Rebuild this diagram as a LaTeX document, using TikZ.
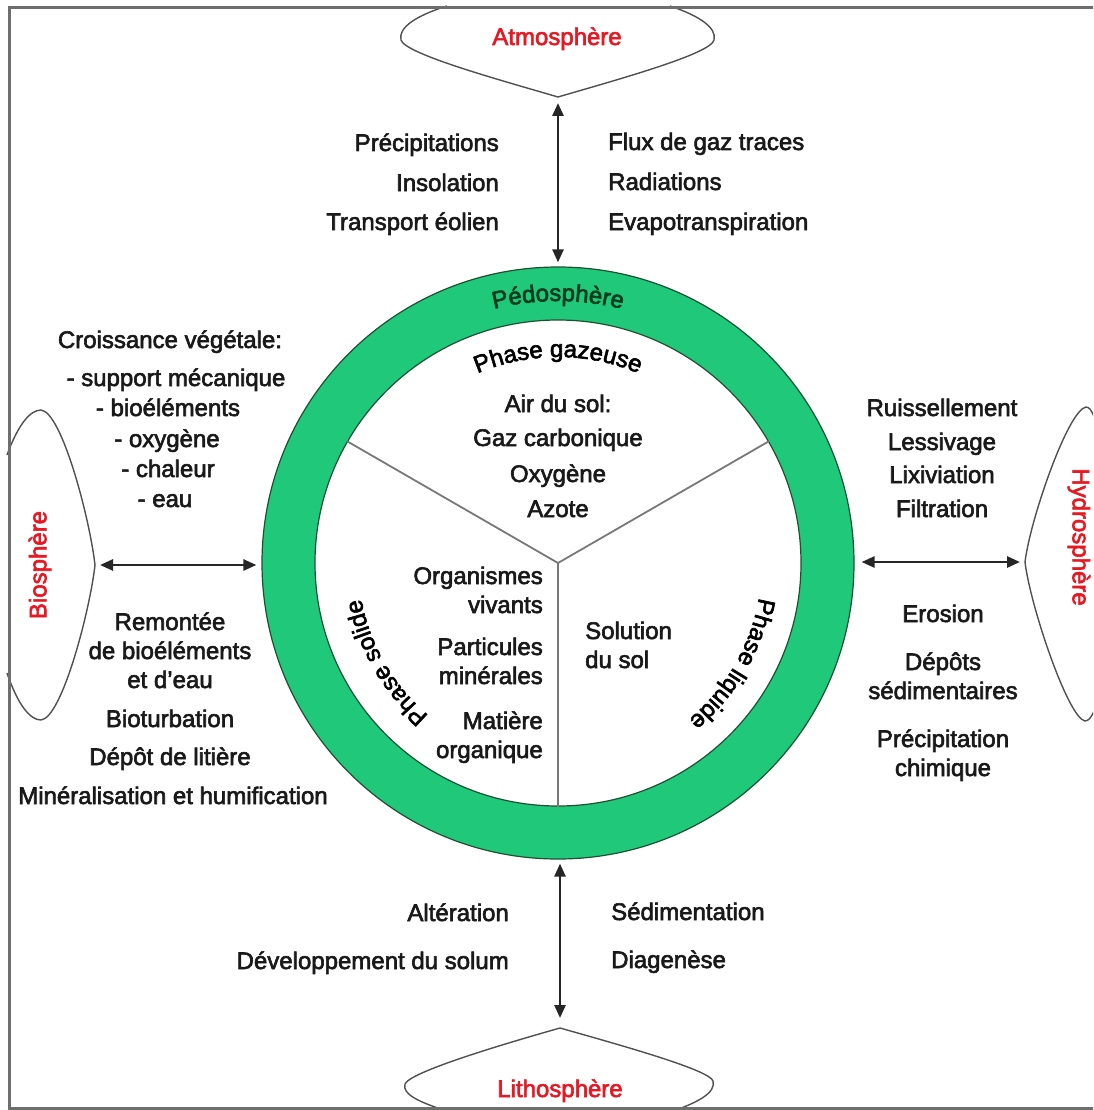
\documentclass[tikz,border=0pt]{standalone}
\usepackage{fontspec}
\setmainfont{Liberation Sans}[RawFeature={embolden=2.5}]
\usetikzlibrary{arrows.meta,decorations.text}
\definecolor{ringgreen}{RGB}{32,200,122}
\definecolor{ringedge}{RGB}{30,80,50}
\definecolor{pedotext}{RGB}{5,60,30}
\definecolor{spherered}{RGB}{230,25,35}
\definecolor{framegray}{RGB}{110,110,110}
\definecolor{lensgray}{RGB}{80,80,80}
\definecolor{divgray}{RGB}{120,120,120}
\newcommand\lblfont{\fontsize{24}{24}\selectfont}

\begin{document}
\begin{tikzpicture}[x=1pt,y=1pt,
  lbl/.style={inner sep=0pt, font=\lblfont, text=black!90},
  sphere/.style={inner sep=0pt, font=\lblfont, text=spherered},
  lens/.style={draw=lensgray, line width=1.4pt},
  frameline/.style={draw=framegray, line width=3pt},
  divider/.style={draw=divgray, line width=1.8pt},
  link/.style={{Triangle[length=13pt,width=11pt]}-{Triangle[length=13pt,width=11pt]}, draw=black!85, line width=2.6pt}
]
\useasboundingbox (0,0) rectangle (1093,-1110);
\clip (0,0) rectangle (1093,-1110);

% --- the four surrounding spheres (lens outlines) ---
\draw[lens] (447,-6) .. controls (415,-16) and (398,-28) .. (401,-40)
  .. controls (405,-54) and (500,-80) .. (558,-97)
  .. controls (616,-80) and (711,-54) .. (714,-40)
  .. controls (717,-28) and (700,-16) .. (670,-6);
\draw[lens] (7,-455) .. controls (18,-425) and (30,-410) .. (41,-410)
  .. controls (62,-412) and (90,-520) .. (95,-565)
  .. controls (90,-610) and (62,-718) .. (41,-720)
  .. controls (30,-720) and (18,-705) .. (7,-673);
\draw[lens] (1100,-440) .. controls (1096,-420) and (1092,-407) .. (1086,-407)
  .. controls (1068,-410) and (1030,-520) .. (1025,-562)
  .. controls (1030,-605) and (1068,-718) .. (1085,-721)
  .. controls (1092,-721) and (1097,-705) .. (1100,-690);
\draw[lens] (450,-1112) .. controls (418,-1102) and (402,-1094) .. (405,-1084)
  .. controls (410,-1072) and (500,-1045) .. (560,-1028)
  .. controls (620,-1045) and (710,-1070) .. (713,-1081)
  .. controls (716,-1092) and (700,-1102) .. (670,-1112);

\coordinate (atmoTip) at (558,-97);
\coordinate (bioTip) at (95,-565);
\coordinate (hydroTip) at (1025,-562);
\coordinate (lithoTip) at (560,-1028);

\node[sphere, anchor=base] (atmo) at (557,-45) {Atmosphère};
\node[sphere, anchor=base] (litho) at (560,-1097) {Lithosphère};
\node[sphere, rotate=90] (bio) at (40,-565) {Biosphère};
\node[sphere, rotate=-90] (hydro) at (1079,-537) {Hydrosphère};

% --- pedosphere ring and its three phases ---
\node[circle, minimum size=592pt, inner sep=0pt, fill=ringgreen, draw=ringedge, line width=1.2pt] (pedo) at (558,-563) {};
\node[circle, minimum size=486pt, inner sep=0pt, fill=white, draw=ringedge, line width=1.2pt] (core) at (pedo.center) {};
\draw[divider] (core.center) -- (core.150);
\draw[divider] (core.center) -- (core.30);
\draw[divider] (core.center) -- (core.270);

\path[decorate, decoration={text along path, text align=center, text color=pedotext,
  text={|\lblfont|Pédosphère}}]
  ([shift={(130:262)}]pedo.center) arc[start angle=130, end angle=50, radius=262];
\path[decorate, decoration={text along path, text align=center,
  text={|\lblfont|Phase gazeuse}}]
  ([shift={(140:206)}]core.center) arc[start angle=140, end angle=40, radius=206];
\path[decorate, decoration={text along path, text align=center,
  text={|\lblfont|Phase solide}}]
  ([shift={(260:200)}]core.center) arc[start angle=260, end angle=160, radius=200];
\path[decorate, decoration={text along path, text align=center,
  text={|\lblfont|Phase liquide}}]
  ([shift={(20:204)}]core.center) arc[start angle=20, end angle=-80, radius=204];

% gas phase
\node[lbl, anchor=base] (g1) at (558,-412) {Air du sol:};
\node[lbl, anchor=base] (g2) at (558,-446) {Gaz carbonique};
\node[lbl, anchor=base] (g3) at (558,-482) {Oxygène};
\node[lbl, anchor=base] (g4) at (558,-517) {Azote};
% solid phase
\node[lbl, anchor=base east] (s1) at (543,-584) {Organismes};
\node[lbl, anchor=base east] (s2) at (543,-613) {vivants};
\node[lbl, anchor=base east] (s3) at (543,-655) {Particules};
\node[lbl, anchor=base east] (s4) at (543,-684) {minérales};
\node[lbl, anchor=base east] (s5) at (543,-729) {Matière};
\node[lbl, anchor=base east] (s6) at (543,-758) {organique};
% liquid phase
\node[lbl, anchor=base west] (l1) at (585,-639) {Solution};
\node[lbl, anchor=base west] (l2) at (585,-668) {du sol};

% --- exchanges with the atmosphere ---
\node[lbl, anchor=base east] (a1) at (499,-151) {Précipitations};
\node[lbl, anchor=base east] (a2) at (499,-191) {Insolation};
\node[lbl, anchor=base east] (a3) at (499,-230) {Transport éolien};
\node[lbl, anchor=base west] (a4) at (608,-150) {Flux de gaz traces};
\node[lbl, anchor=base west] (a5) at (608,-190) {Radiations};
\node[lbl, anchor=base west] (a6) at (608,-230) {Evapotranspiration};

% --- exchanges with the biosphere ---
\node[lbl, anchor=base] (b1) at (170,-348) {Croissance végétale:};
\node[lbl, anchor=base] (b2) at (176,-386) {- support mécanique};
\node[lbl, anchor=base] (b3) at (168,-416) {- bioéléments};
\node[lbl, anchor=base] (b4) at (167,-447) {- oxygène};
\node[lbl, anchor=base] (b5) at (168,-477) {- chaleur};
\node[lbl, anchor=base] (b6) at (165,-507) {- eau};
\node[lbl, anchor=base] (b7) at (170,-630) {Remontée};
\node[lbl, anchor=base] (b8) at (170,-659) {de bioéléments};
\node[lbl, anchor=base] (b9) at (170,-688) {et d'eau};
\node[lbl, anchor=base] (b10) at (170,-727) {Bioturbation};
\node[lbl, anchor=base] (b11) at (170,-765) {Dépôt de litière};
\node[lbl, anchor=base] (b12) at (173,-804) {Minéralisation et humification};

% --- exchanges with the hydrosphere ---
\node[lbl, anchor=base] (h1) at (942,-416) {Ruissellement};
\node[lbl, anchor=base] (h2) at (942,-450) {Lessivage};
\node[lbl, anchor=base] (h3) at (942,-483) {Lixiviation};
\node[lbl, anchor=base] (h4) at (942,-517) {Filtration};
\node[lbl, anchor=base] (h5) at (943,-622) {Erosion};
\node[lbl, anchor=base] (h6) at (943,-670) {Dépôts};
\node[lbl, anchor=base] (h7) at (943,-699) {sédimentaires};
\node[lbl, anchor=base] (h8) at (943,-747) {Précipitation};
\node[lbl, anchor=base] (h9) at (943,-776) {chimique};

% --- exchanges with the lithosphere ---
\node[lbl, anchor=base east] (t1) at (509,-921) {Altération};
\node[lbl, anchor=base east] (t2) at (509,-969) {Développement du solum};
\node[lbl, anchor=base west] (t3) at (611,-920) {Sédimentation};
\node[lbl, anchor=base west] (t4) at (611,-968) {Diagenèse};

% --- two-way links ---
\draw[link, shorten <=6pt, shorten >=4pt] (atmoTip) -- (atmoTip |- pedo.north);
\draw[link, shorten <=4pt, shorten >=10pt] (lithoTip |- pedo.south) -- (lithoTip);
\draw[link, shorten <=5pt, shorten >=5pt] (bioTip) -- (bioTip -| pedo.west);
\draw[link, shorten <=7pt, shorten >=5pt] (hydroTip -| pedo.east) -- (hydroTip);

% --- outer frame ---
\draw[frameline] (1100,-8) -- (9,-8) -- (9,-1108) -- (1100,-1108);
\end{tikzpicture}
\end{document}
